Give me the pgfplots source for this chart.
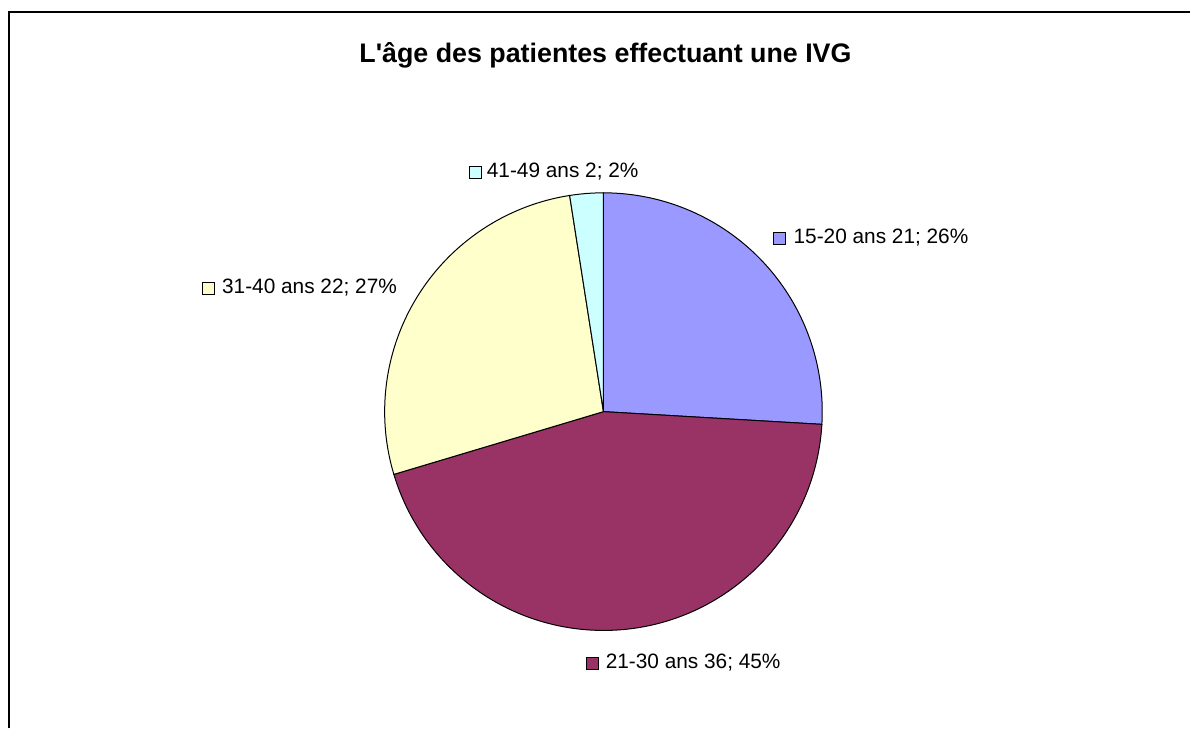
\documentclass[border=0pt]{standalone}
\usepackage{fontspec}
\setmainfont{Liberation Sans}
\usepackage{pgfplots}
\pgfplotsset{compat=1.18}

% Excel-style palette
\definecolor{pieA}{RGB}{153,153,255}
\definecolor{pieB}{RGB}{153,51,102}
\definecolor{pieC}{RGB}{255,255,204}
\definecolor{pieD}{RGB}{204,255,255}

% counts per age group (total 81)
\def\nA{21}\def\nB{36}\def\nC{22}\def\nD{2}
\pgfmathsetmacro\tot{\nA+\nB+\nC+\nD}
\pgfmathsetmacro\aA{90-360*\nA/\tot}
\pgfmathsetmacro\aB{\aA-360*\nB/\tot}
\pgfmathsetmacro\aC{\aB-360*\nC/\tot}
\pgfmathsetmacro\aD{\aC-360*\nD/\tot}
\def\R{131.4pt}

\tikzset{lbl/.style={anchor=base west, font=\fontsize{12.5}{15}\selectfont, inner sep=0pt}}

\begin{document}
\begin{tikzpicture}
\begin{axis}[
  x=0.6pt, y=0.6pt,
  xmin=0, xmax=1191, ymin=0, ymax=729,
  y dir=reverse,
  hide axis, clip=false,
  ]
  \path (axis cs:0,0) rectangle (axis cs:1191,729);
  % frame (only top and left visible)
  \draw[line width=1.3pt] (axis cs:9,729) -- (axis cs:9,12) -- (axis cs:1191,12);

  \node[anchor=base, font=\bfseries\fontsize{16.1}{19}\selectfont, inner sep=0pt]
    at (axis cs:606,63) {L\textquotesingle âge des patientes effectuant une IVG};

  % slices
  \filldraw[fill=pieA, draw=black, line width=0.6pt] (axis cs:604,412) -- ++(90:\R)
    arc[start angle=90, end angle=\aA, radius=\R] -- cycle;
  \filldraw[fill=pieB, draw=black, line width=0.6pt] (axis cs:604,412) -- ++(\aA:\R)
    arc[start angle=\aA, end angle=\aB, radius=\R] -- cycle;
  \filldraw[fill=pieC, draw=black, line width=0.6pt] (axis cs:604,412) -- ++(\aB:\R)
    arc[start angle=\aB, end angle=\aC, radius=\R] -- cycle;
  \filldraw[fill=pieD, draw=black, line width=0.6pt] (axis cs:604,412) -- ++(\aC:\R)
    arc[start angle=\aC, end angle=\aD, radius=\R] -- cycle;

  % label keys
  \addplot[only marks, mark=square*, mark size=3.6pt, mark options={fill=pieA, draw=black, line width=0.6pt}]
    coordinates {(780,238.5)};
  \addplot[only marks, mark=square*, mark size=3.6pt, mark options={fill=pieB, draw=black, line width=0.6pt}]
    coordinates {(593,664.5)};
  \addplot[only marks, mark=square*, mark size=3.6pt, mark options={fill=pieC, draw=black, line width=0.6pt}]
    coordinates {(209,288.5)};
  \addplot[only marks, mark=square*, mark size=3.6pt, mark options={fill=pieD, draw=black, line width=0.6pt}]
    coordinates {(475.5,172.5)};

  \node[lbl] at (axis cs:794,244) {15-20 ans 21; 26\%};
  \node[lbl] at (axis cs:606,669) {21-30 ans 36; 45\%};
  \node[lbl] at (axis cs:222,294) {31-40 ans 22; 27\%};
  \node[lbl] at (axis cs:487,178) {41-49 ans 2; 2\%};
\end{axis}
\end{tikzpicture}
\end{document}
